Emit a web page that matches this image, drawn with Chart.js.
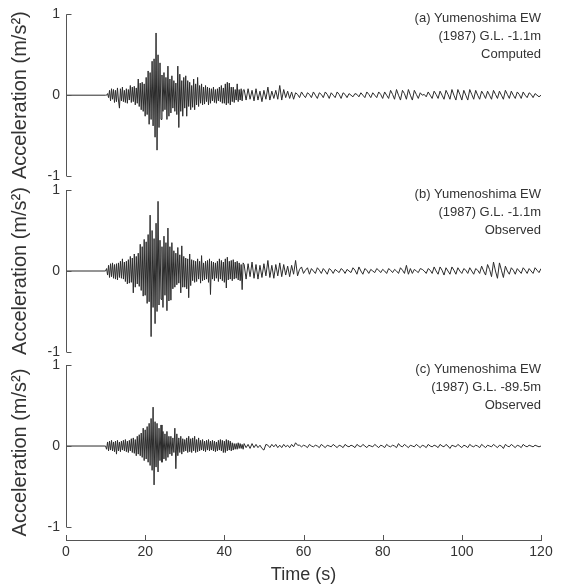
<!DOCTYPE html>
<html>
<head>
<meta charset="utf-8">
<script src="https://cdn.jsdelivr.net/npm/chart.js@4"></script>
<style>
  body { margin: 0; background: #fff; }
  #wrap { position: relative; width: 561px; height: 586px; }
  #wrap canvas { position: absolute; left: 0; top: 0; }
</style>
</head>
<body>
<div id="wrap">
  <canvas id="panelA" width="561" height="586"></canvas>
  <canvas id="panelB" width="561" height="586"></canvas>
  <canvas id="panelC" width="561" height="586"></canvas>
</div>
<script>
// ejes y textos
const xTicks = [0, 20, 40, 60, 80, 100, 120];
const yTicks = [-1, 0, 1];
const yTitle = 'Acceleration (m/s²)';
const xTitle = 'Time (s)';
const notesA = ['(a) Yumenoshima EW', '(1987) G.L. -1.1m', 'Computed'];
const notesB = ['(b) Yumenoshima EW', '(1987) G.L. -1.1m', 'Observed'];
const notesC = ['(c) Yumenoshima EW', '(1987) G.L. -89.5m', 'Observed'];

// muestreo: fase fuerte cada 0.25 s desde 10 s, cola cada 0.5 s desde 45 s
const onset = 10, dtStrong = 0.25, tailStart = 45, dtTail = 0.5;

// (a) computed, G.L. -1.1m
const strongA = [
  0, 0, 0.02, -0.03,  0.06, -0.07, 0.08, -0.05,  0.07, -0.09, 0.06, -0.08,
  0.09, -0.06, -0.16, 0.08,  -0.07, 0.1, -0.08, 0.06,  -0.09, 0.08, -0.1, 0.07,
  -0.06, 0.12, -0.09, 0.1,  -0.08, 0.11, -0.12, 0.09,  -0.1, 0.2, -0.14, 0.15,
  -0.18, 0.16, -0.2, 0.14,  -0.26, 0.22, -0.24, 0.3,  -0.36, 0.28, -0.3, 0.42,
  -0.38, 0.45, -0.52, 0.77,  -0.68, 0.5, -0.4, 0.4,  -0.3, 0.25, -0.2, 0.28,
  -0.18, 0.22, -0.3, 0.36,  -0.26, 0.2, -0.22, 0.24,  -0.16, 0.18, -0.2, 0.15,
  -0.24, 0.36, -0.4, 0.26,  -0.2, 0.18, -0.26, 0.22,  -0.16, 0.24, -0.26, 0.18,
  -0.14, 0.16, -0.18, 0.12,  -0.15, 0.2, -0.18, 0.14,  -0.12, 0.22, -0.14, 0.12,
  -0.1, 0.14, -0.12, 0.1,  -0.11, 0.12, -0.08, 0.1,  -0.12, 0.09, -0.1, 0.08,
  -0.07, 0.1, -0.09, 0.07,  -0.1, 0.08, -0.07, 0.1,  -0.08, 0.12, -0.1, 0.09,
  -0.1, 0.14, -0.12, 0.16,  -0.1, 0.15, -0.12, 0.1,  -0.08, 0.1, -0.09, 0.07,
  -0.06, 0.14, -0.08, 0.07,  -0.06, 0.08, -0.07, 0.06
];
const tailA = [
  0.07, -0.06, 0.08, -0.05, 0.06, -0.07, 0.08, -0.06, 0.05, -0.08, 0.06, -0.05, 0.1,
  -0.06, 0.05, -0.04, 0.06, -0.05, 0.12, -0.06, 0.07, -0.03, 0.05, -0.04, 0.04, -0.05,
  0.03, 0.01, -0.03, 0.04, 0, -0.03, 0.03, 0.01, -0.03, 0.04, 0, -0.04,
  0.03, 0.01, -0.03, 0.04, 0.01, -0.04, 0.03, 0, -0.03, 0.04, 0.01, -0.04,
  0.03, 0.01, -0.03, 0.02, 0, -0.02, 0.02, 0.01, -0.02, 0.03, 0, -0.03,
  0.04, 0.01, -0.03, 0.03, 0, -0.03, 0.04, 0.01, -0.04, 0.04, 0, -0.04,
  0.06, 0.01, -0.05, 0.07, 0, -0.06, 0.06, 0.02, -0.05, 0.07, 0, -0.06, 0.06, 0.01, -0.04, 0.03,
  0, 0.01, -0.02, 0.04, 0, -0.04, 0.05, 0.01, -0.04, 0.05, 0, -0.05,
  0.06, 0.01, -0.05, 0.07, 0, -0.06, 0.07, 0.01, -0.06, 0.06, 0, -0.06,
  0.07, 0.01, -0.05, 0.06, 0, -0.05, 0.05, 0.01, -0.04, 0.05, 0, -0.05,
  0.06, 0.01, -0.04, 0.05, 0, -0.05, 0.06, 0.01, -0.04, 0.05, 0, -0.04,
  0.04, 0.01, -0.04, 0.04, 0, -0.03, 0.03, 0.01, -0.03, 0.02, 0, -0.02,
  0
];

// (b) observed, G.L. -1.1m
const strongB = [
  0, 0.03, -0.05, 0.07,  -0.08, 0.09, -0.07, 0.1,  -0.09, 0.08, -0.1, 0.09,
  -0.11, 0.1, -0.08, 0.12,  -0.09, 0.15, -0.1, 0.11,  -0.13, 0.12, -0.16, 0.14,
  -0.15, 0.18, -0.14, 0.16,  -0.27, 0.21, -0.2, 0.18,  -0.16, 0.22, -0.19, 0.33,
  -0.24, 0.3, -0.31, 0.39,  -0.3, 0.36, -0.4, 0.45,  -0.38, 0.69, -0.81, 0.5,
  -0.45, 0.4, -0.65, 0.59,  -0.5, 0.86, -0.42, 0.38,  -0.35, 0.3, -0.45, 0.43,
  -0.3, 0.35, -0.49, 0.53,  -0.37, 0.3, -0.36, 0.35,  -0.22, 0.25, -0.2, 0.22,
  -0.17, 0.29, -0.15, 0.2,  -0.27, 0.31, -0.2, 0.18,  -0.2, 0.16, -0.22, 0.15,
  -0.33, 0.21, -0.18, 0.14,  -0.12, 0.13, -0.14, 0.12,  -0.13, 0.15, -0.1, 0.12,
  -0.15, 0.19, -0.12, 0.1,  -0.11, 0.12, -0.1, 0.13,  -0.14, 0.15, -0.29, 0.12,
  -0.1, 0.11, -0.12, 0.1,  -0.09, 0.12, -0.13, 0.15,  -0.1, 0.13, -0.12, 0.11,
  -0.14, 0.15, -0.21, 0.17,  -0.11, 0.12, -0.1, 0.13,  -0.12, 0.14, -0.1, 0.11,
  -0.09, 0.12, -0.11, 0.1,  -0.12, 0.08, -0.23, 0.1
];
const tailB = [
  0.08, -0.1, 0.09, -0.07, 0.11, -0.09, 0.08, -0.1, 0.07, -0.08, 0.09, -0.06, 0.13, -0.08,
  0.07, -0.09, 0.08, -0.06, 0.1, -0.07, 0.08, -0.05, 0.06, -0.07, 0.07, -0.04, 0.13, -0.06,
  0.02, 0.05, -0.03, 0.01, 0.04, -0.04, 0.03, 0, -0.03, 0.04, 0.01, -0.03,
  0.03, 0, -0.04, 0.03, 0.01, -0.03, 0.02, 0, -0.02, 0.03, 0.01, -0.03,
  0.02, 0, -0.02, 0.04, 0.01, -0.04, 0.05, 0, -0.04, 0.03, 0.01, -0.03,
  0.02, 0, -0.02, 0.03, 0.01, -0.02, 0.02, 0, -0.03, 0.03, 0.01, -0.02,
  0.02, 0, -0.03, 0.04, 0.01, -0.03, 0.07, -0.04, 0.03, -0.03, 0.02, 0, -0.02, 0.03,
  0.02, 0, -0.03, 0.03, 0.01, -0.03, 0.05, 0, -0.04, 0.05, 0.01, -0.05,
  0.04, 0, -0.04, 0.05, 0.01, -0.04, 0.04, 0, -0.03, 0.03, 0.01, -0.03,
  0.04, 0, -0.04, 0.03, 0.01, -0.03, 0.06, 0, -0.05, 0.08, 0.02, -0.07,
  0.11, 0, -0.09, 0.1, 0.01, -0.08, 0.06, 0, -0.04, 0.04, 0.01, -0.04,
  0.03, 0, -0.03, 0.04, 0.01, -0.03, 0.03, 0, -0.03, 0.04, 0.01, -0.02,
  0.03
];

// (c) observed, G.L. -89.5m
const strongC = [
  0, -0.04, 0.05, -0.06,  0.06, -0.05, 0.07, -0.06,  0.05, -0.07, 0.06, -0.1,
  0.07, -0.06, 0.05, -0.07,  0.06, -0.05, 0.07, -0.06,  0.08, -0.07, 0.06, -0.08,
  0.07, -0.06, 0.09, -0.08,  0.1, -0.09, 0.08, -0.12,  0.12, -0.1, 0.14, -0.12,
  0.16, -0.14, 0.22, -0.18,  0.2, -0.16, 0.24, -0.2,  0.28, -0.24, 0.34, -0.3,
  0.48, -0.48, 0.3, -0.26,  0.28, -0.32, 0.22, -0.18,  0.26, -0.2, 0.18, -0.16,
  0.15, -0.18, 0.18, -0.14,  0.12, -0.1, 0.12, -0.12,  0.1, -0.08, 0.22, -0.28,
  0.15, -0.12, 0.1, -0.08,  0.12, -0.1, 0.09, -0.07,  0.08, -0.06, 0.1, -0.08,
  0.12, -0.07, 0.09, -0.08,  0.1, -0.06, 0.12, -0.08,  0.08, -0.07, 0.1, -0.06,
  0.07, -0.05, 0.08, -0.06,  0.06, -0.07, 0.07, -0.05,  0.08, -0.06, 0.06, -0.05,
  0.07, -0.06, 0.06, -0.07,  0.05, -0.06, 0.07, -0.05,  0.08, -0.06, 0.07, -0.08,
  0.06, -0.08, 0.08, -0.06,  0.07, -0.05, 0.06, -0.06,  0.04, -0.05, 0.03, -0.04,
  0.03, -0.04, 0.04, -0.03,  0.03, -0.03, 0.02, -0.04
];
const tailC = [
  0.03, -0.02, 0.02, -0.03, 0.03, -0.02, 0.02, -0.02, 0.01, -0.03, -0.05, 0.02, 0.01, -0.02, 0.02,
  -0.01, 0.02, -0.02, 0.01, -0.02, 0.02, -0.01, 0.01, -0.02, 0.02, -0.01, 0.04, 0.01, 0.01, -0.01,
  0.01, 0, -0.02, 0.02, 0, -0.01, 0.01, 0, -0.02, 0.02, 0, -0.02,
  0.01, 0, -0.01, 0.02, 0, -0.02, 0.01, 0, -0.02, 0.02, 0, -0.01,
  0.01, 0, -0.02, 0.02, 0, -0.01, 0.02, 0, -0.02, 0.01, 0, -0.01,
  0.02, 0, -0.02, 0.01, 0, -0.02, 0.02, 0, -0.01, 0.01, 0, -0.02,
  0.03, 0, -0.01, 0.02, 0, -0.02, 0.01, 0, -0.01, 0.02, 0, -0.02,
  0.01, 0, -0.02, 0.02, 0, -0.01, 0.01, 0, -0.02, 0.02, 0, -0.01,
  0.02, 0, -0.03, 0.01, 0, -0.01, 0.02, 0, -0.02, 0.01, 0, -0.02,
  0.02, 0, -0.01, 0.01, 0, -0.02, 0.02, 0, -0.02, 0.01, 0, -0.01,
  0.02, 0, -0.02, 0.01, 0, -0.03, 0.02, 0, -0.01, 0.02, 0, -0.02,
  0.01, 0, -0.02, 0.02, 0, -0.01, 0.01, 0, -0.01, 0.01, 0, -0.01,
  0
];

const fontFamily = '"Liberation Sans", Arial, sans-serif';
const textColor = '#333';
const axisColor = '#555';
const lineColor = '#2b2b2b';

function toPoints(strong, tail) {
    const pts = [{ x: 0, y: 0 }];
    strong.forEach((v, i) => pts.push({ x: onset + i * dtStrong, y: v }));
    tail.forEach((v, i) => pts.push({ x: tailStart + i * dtTail, y: v }));
    return pts;
}

// ticks hacia adentro, eje y de -1 a 1 y las notas de cada panel
const panelMarks = {
    id: 'panelMarks',
    afterDraw(chart, args, opts) {
        const { ctx, chartArea, scales: { x, y } } = chart;
        const left = Math.round(chartArea.left) + 0.5;
        const yTop = y.getPixelForValue(Math.max(...yTicks));
        const yBot = y.getPixelForValue(Math.min(...yTicks));
        ctx.save();
        ctx.strokeStyle = axisColor;
        ctx.lineWidth = 1;
        ctx.beginPath();
        ctx.moveTo(left, yTop);
        ctx.lineTo(left, yBot);
        yTicks.forEach(v => {
            const p = Math.round(y.getPixelForValue(v)) + 0.5;
            ctx.moveTo(left, p);
            ctx.lineTo(left + 5, p);
        });
        if (opts.showX) {
            xTicks.forEach(v => {
                const p = Math.round(x.getPixelForValue(v)) + 0.5;
                ctx.moveTo(p, chartArea.bottom);
                ctx.lineTo(p, chartArea.bottom - 5);
            });
        }
        ctx.stroke();
        ctx.fillStyle = textColor;
        ctx.font = '13px ' + fontFamily;
        ctx.textAlign = 'right';
        ctx.textBaseline = 'middle';
        opts.notes.forEach((t, i) => ctx.fillText(t, chartArea.right, yTop + 4 + i * 18));
        ctx.restore();
    }
};

function makePanel(id, strong, tail, notes, top, bottom, showX, yMin) {
    return new Chart(document.getElementById(id), {
        type: 'line',
        data: {
            datasets: [{
                data: toPoints(strong, tail),
                borderColor: lineColor,
                borderWidth: 1,
                pointRadius: 0,
                tension: 0
            }]
        },
        options: {
            responsive: false,
            animation: false,
            events: [],
            layout: { padding: { left: 0, right: 20, top: top, bottom: showX ? 0 : 586 - bottom } },
            plugins: {
                legend: { display: false },
                tooltip: { enabled: false },
                panelMarks: { notes: notes, showX: showX }
            },
            scales: {
                x: {
                    type: 'linear',
                    display: showX,
                    min: 0,
                    max: 120,
                    afterBuildTicks: s => { s.ticks = xTicks.map(v => ({ value: v })); },
                    afterFit: s => { s.height = showX ? 46 : 0; },
                    grid: { drawOnChartArea: false, drawTicks: false },
                    border: { display: true, color: axisColor, width: 1 },
                    ticks: { padding: 4, color: textColor, font: { family: fontFamily, size: 14 } },
                    title: {
                        display: true,
                        text: xTitle,
                        color: textColor,
                        font: { family: fontFamily, size: 18 },
                        padding: { top: 0, bottom: 0 }
                    }
                },
                y: {
                    min: yMin,
                    max: 1,
                    afterBuildTicks: s => { s.ticks = yTicks.map(v => ({ value: v })); },
                    afterFit: s => { s.width = 66; },
                    grid: { drawOnChartArea: false, drawTicks: false },
                    border: { display: false },
                    ticks: { padding: 6, color: textColor, font: { family: fontFamily, size: 14 } },
                    title: {
                        display: true,
                        text: yTitle,
                        color: textColor,
                        font: { family: fontFamily, size: 20 },
                        padding: { top: 8, bottom: 0 }
                    }
                }
            }
        },
        plugins: [panelMarks]
    });
}

makePanel('panelA', strongA, tailA, notesA, 14, 176, false, -1);
makePanel('panelB', strongB, tailB, notesB, 190, 352, false, -1);
makePanel('panelC', strongC, tailC, notesC, 365, 540, true, -1.16);
</script>
</body>
</html>
